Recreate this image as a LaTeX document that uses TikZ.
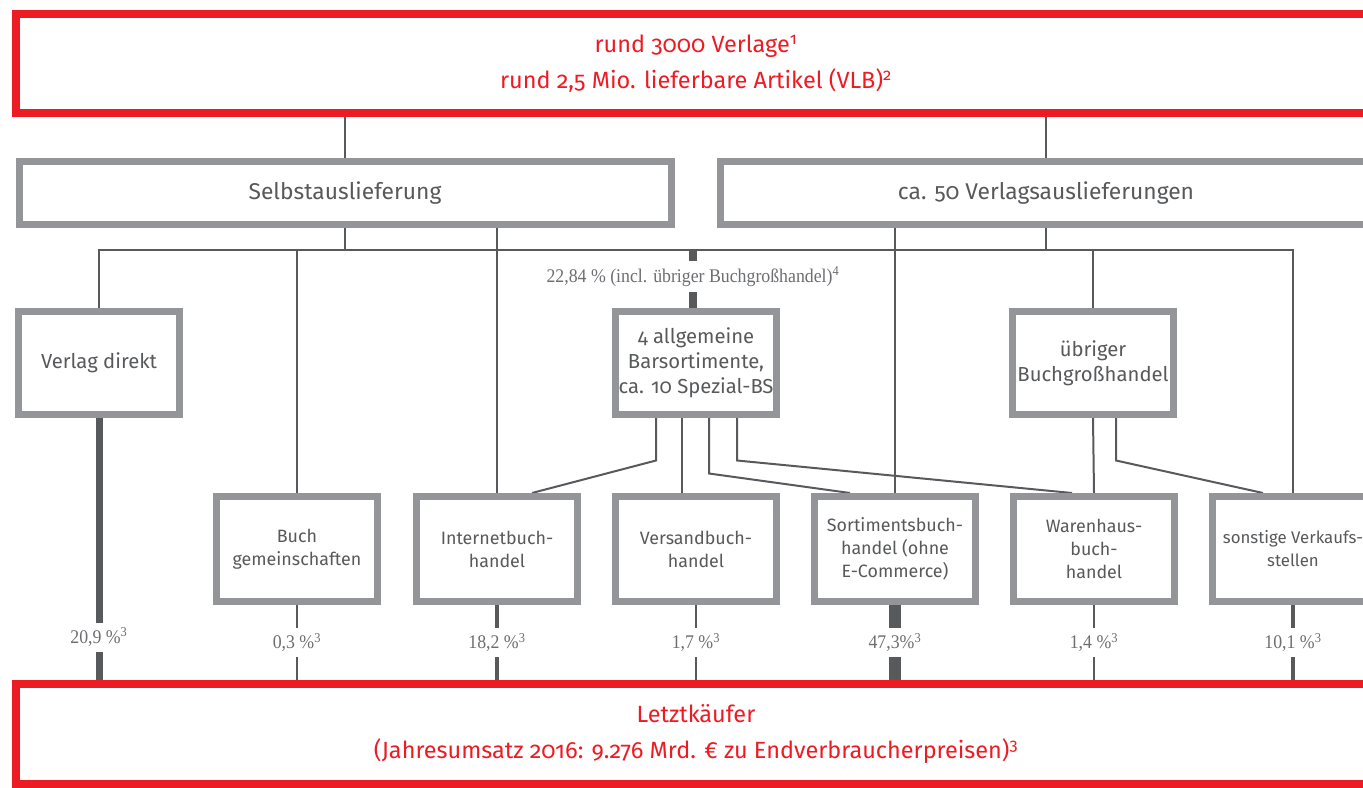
\documentclass[tikz,border=0pt]{standalone}
\usepackage{fontspec}
\setmainfont[Numbers=OldStyle]{Fira Sans}
\newfontfamily\pctfont[FakeStretch=0.92]{Liberation Serif}
\usetikzlibrary{calc}
\usetikzlibrary{backgrounds}
\definecolor{vred}{HTML}{ED1C24}
\definecolor{boxgray}{HTML}{939598}
\definecolor{linegray}{HTML}{58595B}
\definecolor{pctgray}{HTML}{6D6E71}
\tikzstyle{redbox}=[rectangle, draw=vred, line width=6pt, fill=white, minimum width=1020pt, minimum height=74.25pt, text=vred, align=center, font=\fontsize{17.6}{27}\selectfont]
\tikzstyle{widebox}=[rectangle, draw=boxgray, line width=5.25pt, fill=white, minimum width=489pt, minimum height=46.5pt, text=linegray, align=center, font=\fontsize{17.1}{20}\selectfont]
\tikzstyle{midbox}=[rectangle, draw=boxgray, line width=5.25pt, fill=white, minimum width=120.75pt, minimum height=77.25pt, inner sep=1pt, text=linegray, align=center, font=\fontsize{15.2}{18.75}\selectfont]
\tikzstyle{lowbox}=[midbox, minimum height=78.75pt, font=\fontsize{13.4}{17.25}\selectfont]
\tikzstyle{conn}=[draw=linegray, line width=1.5pt]
\tikzstyle{pct}=[fill=white, text=pctgray, inner xsep=2pt, inner ysep=4pt, font=\pctfont\fontsize{14.5}{15}\selectfont]

\begin{document}
\begin{tikzpicture}[x=0.75pt, y=-0.75pt]
  \useasboundingbox (0,0) rectangle (1363,788);
  \node[redbox] at (696,63.5) (verlage) {rund 3000 Verlage\textsuperscript{1}\\rund 2,5 Mio. lieferbare Artikel (VLB)\textsuperscript{2}};
  \node[widebox] at (345,193) (selbst) {Selbstauslieferung};
  \node[widebox] at (1046,193) (verlags) {ca. 50 Verlagsauslieferungen};
  \node[midbox] at (99,363) (direkt) {Verlag direkt};
  \node[midbox] at (696,363) (bars) {4 allgemeine\\Barsortimente,\\ca. 10 Spezial-BS};
  \node[midbox] at (1093,363) (uebr) {übriger\\Buchgroßhandel};
  \node[lowbox] at (297,549) (buch) {Buch\\gemeinschaften};
  \node[lowbox] at (497,549) (inet) {Internetbuch-\\handel};
  \node[lowbox] at (696,549) (vers) {Versandbuch-\\handel};
  \node[lowbox] at (895,549) (sort) {Sortimentsbuch-\\handel (ohne\\E-Commerce)};
  \node[lowbox] at (1094,549) (waren) {Warenhaus-\\buch-\\handel};
  \node[lowbox, font=\fontsize{12.6}{17.25}\selectfont] at (1293,549) (sonst) {sonstige Verkaufs-\\stellen};
  \node[redbox, minimum height=75pt] at (696,734) (kaeufer) {Letztkäufer\\(Jahresumsatz 2016: 9.276 Mrd. € zu Endverbraucherpreisen)\textsuperscript{3}};
  \coordinate (bus) at (0,250);
  \begin{scope}[on background layer]
    \draw[conn] (verlage.south -| selbst.north) -- (selbst.north);
    \draw[conn] (verlage.south -| verlags.north) -- (verlags.north);
    \draw[conn] (direkt.north) |- (sonst.north |- bus) -- (sonst.north);
    \draw[conn] (selbst.south) -- (selbst.south |- bus);
    \draw[conn] (verlags.south) -- (verlags.south |- bus);
    \draw[conn] (buch.north |- bus) -- (buch.north);
    \draw[conn] (inet.north |- selbst.south) -- (inet.north);
    \draw[conn] (sort.north |- verlags.south) -- (sort.north);
    \draw[conn] (uebr.north |- bus) -- (uebr.north);
    \draw[conn, line width=6pt] ($(bars.north |- bus)+(-3,0)$) -- node[pct, pos=0.455] {22,84 \% (incl. übriger Buchgroßhandel)\textsuperscript{4}} ($(bars.north)+(-3,0)$);
    % Barsortimente und Buchgrosshandel nach unten
    \draw[conn] ($(bars.south)+(-40,0)$) -- ++(0,42.5) -- ($(inet.north)+(35,0)$);
    \draw[conn] ($(bars.south)+(-14,0)$) -- ($(vers.north)+(-14,0)$);
    \draw[conn] ($(bars.south)+(13,0)$) -- ++(0,55.5) -- ($(sort.north)+(-45,0)$);
    \draw[conn] ($(bars.south)+(41,0)$) -- ++(0,42.5) -- ($(waren.north)+(-22,0)$);
    \draw[conn] (uebr.south) -- (waren.north);
    \draw[conn] ($(uebr.south)+(23,0)$) -- ++(0,42.5) -- ($(sonst.north)+(-30,0)$);
    % Anteile
    \draw[conn, line width=5.25pt] (direkt.south) -- node[pct, pos=0.837] {20,9 \%\textsuperscript{3}} (direkt.south |- kaeufer.north);
    \draw[conn] (buch.south) -- node[pct] {0,3 \%\textsuperscript{3}} (buch.south |- kaeufer.north);
    \draw[conn, line width=3pt] (inet.south) -- node[pct] {18,2 \%\textsuperscript{3}} (inet.south |- kaeufer.north);
    \draw[conn] (vers.south) -- node[pct] {1,7 \%\textsuperscript{3}} (vers.south |- kaeufer.north);
    \draw[conn, line width=9pt] (sort.south) -- node[pct] {47,3\%\textsuperscript{3}} (sort.south |- kaeufer.north);
    \draw[conn] (waren.south) -- node[pct] {1,4 \%\textsuperscript{3}} (waren.south |- kaeufer.north);
    \draw[conn, line width=3pt] (sonst.south) -- node[pct] {10,1 \%\textsuperscript{3}} (sonst.south |- kaeufer.north);
  \end{scope}
\end{tikzpicture}
\end{document}
